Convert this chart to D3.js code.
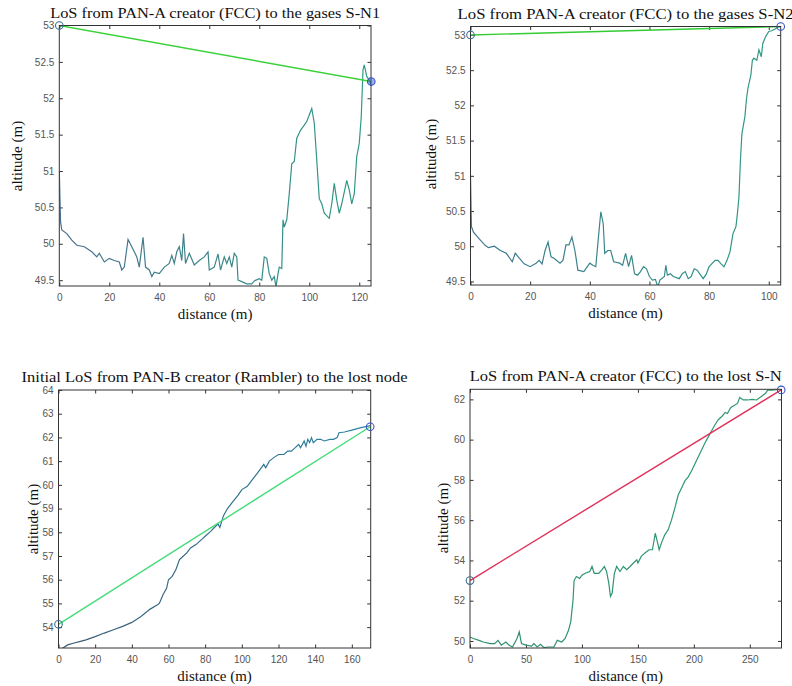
<!DOCTYPE html>
<html>
<head>
<meta charset="utf-8">
<script src="https://d3js.org/d3.v7.min.js"></script>
<style>
  body { margin: 0; background: #fff; }
  .tick text { font-family: "Liberation Sans", Arial, sans-serif; font-size: 10px; fill: #555; }
  .tick line { stroke: #333; }
  .ttl, .lbl { font-family: "Liberation Serif", "DejaVu Serif", serif; fill: #111; }
</style>
</head>
<body>
<svg id="fig" width="792" height="686"></svg>
<script>
// terrain profiles: [distance (m), altitude (m)]
const profile1 = [[0,51.0],[0.5,50.3],[1,50.19],[3,50.14],[5,50.05],[7,49.98],[10,49.96],[13,49.89],[15,49.82],[16,49.87],[18,49.75],[20,49.8],[22,49.77],[24,49.75],[25,49.64],[26,49.68],[27.5,50.06],[29,49.96],[31,49.82],[32,49.68],[33.5,50.09],[34.5,49.68],[36,49.64],[37,49.55],[38,49.61],[40,49.59],[42,49.68],[44,49.73],[45,49.84],[46,49.73],[47,49.89],[48,49.96],[49,49.77],[49.7,50.14],[50.5,49.73],[52,49.87],[54,49.71],[56,49.77],[58,49.82],[59.5,49.89],[60,49.64],[62,49.68],[63.5,49.86],[64.5,49.64],[66,49.82],[67,49.73],[68,49.82],[69,49.68],[70,49.87],[71,49.82],[71.5,49.5],[73,49.48],[75,49.45],[77,49.45],[78,49.49],[80,49.52],[81,49.5],[82,49.82],[83,49.8],[84,49.59],[85,49.5],[86,49.55],[86.7,49.41],[87.5,49.59],[88,49.68],[89,49.66],[89.5,50.33],[90,50.23],[91,50.33],[92,50.69],[93,51.1],[94,51.13],[95,51.45],[96.5,51.56],[98,51.63],[99,51.68],[100,51.77],[101,51.86],[102,51.66],[103,51.15],[104,50.62],[105,50.55],[106,50.42],[108,50.35],[109,50.55],[110,50.83],[111,50.6],[112,50.42],[113,50.55],[115,50.87],[116,50.74],[117,50.55],[118,50.69],[119,51.2],[120,51.38],[120.8,51.75],[121.5,52.39],[122,52.46],[123,52.3],[124,52.25],[124.8,52.18]];

const profile2 = [[0,51.0],[0.3,50.28],[1,50.2],[3,50.1],[5,50.01],[6,49.98],[8,50.0],[10,49.94],[12,49.9],[14,49.78],[15,49.9],[16,49.85],[18,49.75],[20,49.71],[22,49.76],[23,49.8],[24,49.75],[25,49.94],[26,50.06],[27,49.85],[28,49.83],[30,49.76],[31,49.8],[32,50.02],[33,50.02],[34,50.13],[35,49.94],[36,49.66],[38,49.64],[40,49.76],[41,49.73],[42,49.71],[43,50.18],[43.7,50.49],[44.5,50.32],[45,49.9],[46,49.94],[47,49.94],[48,49.78],[50,49.76],[51,49.73],[52,49.9],[53,49.71],[54,49.87],[55,49.61],[56,49.59],[57,49.64],[58,49.71],[59,49.68],[60,49.57],[61,49.52],[62,49.53],[62.8,49.42],[63.5,49.52],[65,49.57],[65.5,49.73],[66,49.59],[67,49.61],[68,49.57],[70,49.54],[71,49.61],[72,49.64],[73,49.54],[74,49.57],[75,49.68],[76,49.66],[78,49.54],[79,49.6],[80,49.71],[82,49.8],[83,49.8],[84,49.75],[85,49.71],[86,49.8],[87,49.92],[88,50.18],[89,50.28],[89.5,50.47],[90,50.7],[90.5,51.22],[91,51.6],[92,51.84],[92.5,52.08],[93,52.24],[94,52.43],[94.5,52.64],[95,52.67],[96,52.64],[96.7,52.79],[97.5,52.69],[98,52.88],[99,52.98],[100,53.05],[101,53.06],[102,53.08],[103,53.11],[104,53.12]];

const profile3 = [[0,53.08],[2,53.1],[5,53.25],[8,53.32],[12,53.4],[15,53.46],[20,53.6],[25,53.75],[30,53.89],[35,54.03],[40,54.2],[45,54.45],[50,54.76],[54,54.94],[55,55.0],[57,55.37],[59,55.65],[60,56.0],[62,56.14],[64,56.42],[66,56.85],[68,56.99],[70,57.13],[72,57.34],[75,57.48],[78,57.69],[80,57.83],[83,58.04],[85,58.2],[87,58.35],[88,58.2],[89,58.45],[90,58.7],[92,58.98],[95,59.28],[98,59.57],[100,59.8],[103,59.94],[105,60.15],[108,60.44],[110,60.65],[112,60.86],[113,60.72],[115,61.0],[118,61.18],[120,61.28],[123,61.28],[125,61.42],[127,61.42],[129,61.56],[131,61.7],[132,61.56],[134,61.85],[135,61.63],[136,61.92],[137,61.78],[138,61.99],[139,61.78],[141,61.92],[143,61.92],[145,61.85],[148,61.92],[150,61.92],[152,61.99],[153,62.2],[156,62.23],[160,62.31],[165,62.41],[170,62.5]];

const profile4 = [[0,50.2],[3,50.12],[8,50.03],[12,49.95],[18,49.87],[22,49.87],[25,50.03],[28,49.79],[32,49.95],[35,49.79],[38,49.7],[42,50.12],[44,50.45],[46,49.87],[50,49.79],[55,49.74],[57,49.87],[60,49.7],[63,49.83],[66,49.67],[70,49.7],[75,49.7],[78,50.03],[82,49.95],[85,50.12],[88,50.53],[90,50.95],[92,52.0],[93,53.0],[95,53.2],[98,53.1],[100,53.27],[103,53.36],[107,53.45],[109,53.7],[111,53.36],[115,53.36],[118,53.54],[120,53.7],[122,53.45],[124,52.87],[125.5,52.21],[127,52.38],[129,53.36],[131,53.7],[134,53.45],[137,53.7],[140,53.54],[143,53.7],[146,53.87],[149,54.03],[150,53.87],[153,54.2],[156,54.36],[160,54.53],[163,54.53],[165.5,55.35],[167,55.02],[169,54.53],[171,54.86],[174,55.27],[177,55.52],[180,56.0],[183,56.6],[186,57.25],[189,57.6],[192,57.95],[195,58.15],[198,58.45],[201,58.8],[204,59.15],[207,59.5],[210,59.85],[213,60.15],[216,60.45],[219,60.75],[222,61.0],[225,61.15],[228,61.35],[230,61.3],[233,61.6],[236,61.7],[239,61.8],[241,62.1],[244,61.97],[248,61.97],[252,62.0],[256,61.97],[260,62.13],[264,62.3],[266,62.46],[270,62.46],[275,62.5],[278,62.53]];

// line-of-sight endpoints [distance, altitude]
const los1 = [[0, 53.0], [124.8, 52.23]];
const los2 = [[0, 53.0], [104, 53.12]];
const los3 = [[0, 54.12], [170, 62.45]];
const los4 = [[0, 53.0], [278, 62.47]];

const titles = [
  "LoS from PAN-A creator (FCC) to the gases S-N1",
  "LoS from PAN-A creator (FCC) to the gases S-N2",
  "Initial LoS from PAN-B creator (Rambler) to the lost node",
  "LoS from PAN-A creator (FCC) to the lost S-N"
];

const xDomains = [[0, 124.7], [0, 104], [0, 170.3], [0, 278.3]];
const yDomains = [[49.42, 53.0], [49.45, 53.12], [53.12, 64], [49.65, 62.5]];
const xTicks = [[0,20,40,60,80,100,120], [0,20,40,60,80,100], [0,20,40,60,80,100,120,140,160], [0,50,100,150,200,250]];
const yTicks = [[49.5,50,50.5,51,51.5,52,52.5,53], [49.5,50,50.5,51,51.5,52,52.5,53], [54,55,56,57,58,59,60,61,62,63,64], [50,52,54,56,58,60,62]];

const profiles = [profile1, profile2, profile3, profile4];
const losLines = [los1, los2, los3, los4];

// layout of the four axes boxes (pixels)
const boxes = [
  {x0: 59.3, x1: 371, y0: 25.5, y1: 286, tw: 330, ax: 17, ay: 156},
  {x0: 470.5, x1: 780.7, y0: 26.5, y1: 285, tw: 336, ax: 431, ay: 154},
  {x0: 58.5, x1: 370.7, y0: 390, y1: 648, tw: 386, ax: 33, ay: 519},
  {x0: 470, x1: 781.5, y0: 389.3, y1: 648, tw: 312, ax: 443, ay: 518}
];
const losColors = ["#3ad13a", "#33cc33", "#45db7a", "#e0305a"];
const terrainColors = [["#4a6f8e", "#2e9c86"], ["#3f7590", "#2f9c84"], ["#3d5a72", "#2a86a6"], ["#2f8f70", "#2c9a72"]];

const svg = d3.select("#fig");
svg.append("rect").attr("width", 792).attr("height", 686).attr("fill", "#fff");
const defs = svg.append("defs");

boxes.forEach((b, i) => {
  const x = d3.scaleLinear().domain(xDomains[i]).range([b.x0, b.x1]);
  const y = d3.scaleLinear().domain(yDomains[i]).range([b.y1, b.y0]);
  const g = svg.append("g");

  defs.append("clipPath").attr("id", "clip" + i)
    .append("rect").attr("x", b.x0).attr("y", b.y0)
    .attr("width", b.x1 - b.x0).attr("height", b.y1 - b.y0);

  const grad = defs.append("linearGradient").attr("id", "grad" + i)
    .attr("gradientUnits", "userSpaceOnUse")
    .attr("x1", b.x0).attr("x2", b.x1).attr("y1", 0).attr("y2", 0);
  grad.append("stop").attr("offset", "0%").attr("stop-color", terrainColors[i][0]);
  grad.append("stop").attr("offset", "100%").attr("stop-color", terrainColors[i][1]);

  const fmt = d => d3.format("~g")(d);
  // bottom / left axes with inward ticks
  g.append("g").attr("transform", `translate(0,${b.y1})`)
    .call(d3.axisBottom(x).tickValues(xTicks[i]).tickFormat(fmt).tickSizeInner(-3.5).tickSizeOuter(0).tickPadding(8))
    .call(a => a.select(".domain").remove());
  g.append("g").attr("transform", `translate(${b.x0},0)`)
    .call(d3.axisLeft(y).tickValues(yTicks[i]).tickFormat(fmt).tickSizeInner(-3.5).tickSizeOuter(0).tickPadding(5))
    .call(a => a.select(".domain").remove());
  // top / right mirror ticks
  g.append("g").attr("transform", `translate(0,${b.y0})`)
    .call(d3.axisTop(x).tickValues(xTicks[i]).tickFormat("").tickSizeInner(-3.5).tickSizeOuter(0))
    .call(a => a.select(".domain").remove());
  g.append("g").attr("transform", `translate(${b.x1},0)`)
    .call(d3.axisRight(y).tickValues(yTicks[i]).tickFormat("").tickSizeInner(-3.5).tickSizeOuter(0))
    .call(a => a.select(".domain").remove());

  const line = d3.line().x(d => x(d[0])).y(d => y(d[1]));
  const plot = g.append("g").attr("clip-path", `url(#clip${i})`);
  plot.append("path").datum(profiles[i]).attr("d", line)
    .attr("fill", "none").attr("stroke", `url(#grad${i})`).attr("stroke-width", 1.2);
  plot.append("path").datum(losLines[i]).attr("d", line)
    .attr("fill", "none").attr("stroke", losColors[i]).attr("stroke-width", 1.4);

  g.append("rect").attr("x", b.x0).attr("y", b.y0)
    .attr("width", b.x1 - b.x0).attr("height", b.y1 - b.y0)
    .attr("fill", "none").attr("stroke", "#333").attr("stroke-width", 1);

  // end point markers
  g.selectAll("circle.m").data(losLines[i]).join("circle")
    .attr("cx", d => x(d[0])).attr("cy", d => y(d[1])).attr("r", 3.8)
    .attr("fill", (d, j) => (i === 0 && j === 1) ? "rgba(40,80,200,0.45)" : "none")
    .attr("stroke", (d, j) => j === 0 ? "#3b6d8a" : "#3552c8").attr("stroke-width", 1.1);

  const cx = (b.x0 + b.x1) / 2;
  g.append("text").attr("class", "ttl").attr("x", cx).attr("y", b.y0 - 8)
    .attr("text-anchor", "middle").attr("font-size", 15)
    .attr("textLength", b.tw).attr("lengthAdjust", "spacingAndGlyphs")
    .text(titles[i]);
  g.append("text").attr("class", "lbl").attr("x", cx).attr("y", b.y1 + 33)
    .attr("text-anchor", "middle").attr("font-size", 15).text("distance (m)");
  g.append("text").attr("class", "lbl")
    .attr("transform", `translate(${b.ax},${b.ay}) rotate(-90)`)
    .attr("text-anchor", "middle").attr("dy", "0.35em").attr("font-size", 15).text("altitude (m)");
});
</script>
</body>
</html>
